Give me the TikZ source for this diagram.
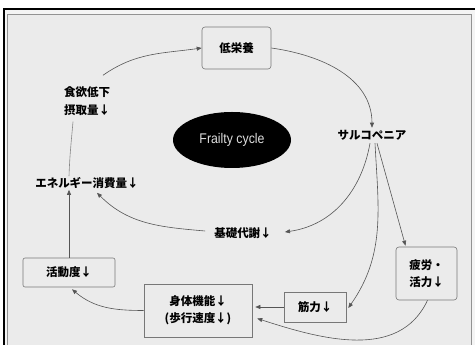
\documentclass[tikz,border=0pt]{standalone}
\usepackage{fontspec}
\setmainfont{Liberation Sans}
\newfontfamily\narrowsans[FakeStretch=0.88]{Liberation Sans}
\newfontfamily\jp{Noto Sans CJK JP}
\usetikzlibrary{shapes.geometric,arrows.meta,calc}
\definecolor{bgin}{HTML}{EBEBEB}
\definecolor{bgout}{HTML}{F4F4F4}
\definecolor{ln}{HTML}{555555}
\definecolor{bx}{HTML}{777777}
\tikzset{
  lbl/.style={font=\jp\bfseries\fontsize{11.5}{15}\selectfont, text=black, inner sep=1pt, align=center},
  rbox/.style={lbl, draw=bx, line width=0.6pt, rounded corners=3pt, fill=bgin},
  sbox/.style={lbl, draw=bx, line width=0.6pt, fill=bgin},
  conn/.style={draw=ln, line width=0.6pt, -{Triangle[length=5pt,width=4pt]}},
  plain/.style={draw=ln!70, line width=0.6pt}
}
\begin{document}
\begin{tikzpicture}[x=1pt,y=1pt]
\useasboundingbox (0,0) rectangle (475,345);
\fill[white] (0,0) rectangle (475,345);
\fill[bgout] (4,0) rectangle (475,336);
\fill[bgin] (7.5,0) rectangle (471,331);
\draw[bx!80, line width=0.8pt] (7.5,0) -- (7.5,331) -- (471,331) -- (471,0);
\draw[black, line width=2pt] (4,0) -- (4,336) -- (475,336);

\node[ellipse, fill=black, minimum width=118, minimum height=56, inner sep=0pt,
      font=\narrowsans\fontsize{14}{16}\selectfont, text=gray!25] (fc) at (232,205) {Frailty cycle};

\node[rbox, minimum width=69, minimum height=42] (nut) at (236.5,297) {低栄養};
\node[lbl] (sarco) at (372,210) {サルコペニア};
\node[lbl, font=\jp\bfseries\fontsize{11.5}{18}\selectfont] (app) at (87,244) {食欲低下\\摂取量↓};
\node[lbl] (ene) at (87,162) {エネルギー消費量↓};
\node[lbl] (bas) at (243,112) {基礎代謝↓};
\node[rbox, rounded corners=2pt, minimum width=92, minimum height=29] (act) at (69,72.5) {活動度↓};
\node[sbox, minimum width=108, minimum height=53, font=\jp\bfseries\fontsize{11.5}{17}\selectfont] (phys) at (198,34.5) {身体機能↓\\(歩行速度↓)};
\node[sbox, minimum width=62, minimum height=30] (mus) at (315,38) {筋力↓};
\node[rbox, minimum width=61, minimum height=53, font=\jp\bfseries\fontsize{11.5}{17}\selectfont] (fat) at (426.5,71.5) {疲労・\\活力↓};

% connectors
\draw[conn] ($(app.north)+(16,10)$) to[out=35, in=188] (nut.west);
\draw[conn] (nut.east) to[out=-8, in=90] ($(sarco.north)+(0,1)$);
\draw[plain] (ene.north -| act.north) to[out=88, in=-95] ($(app.south)+(-14,-5)$);
\draw[conn] ($(sarco.south)+(-2,-2)$) to[out=-100, in=8] ($(bas.east)+(12,1)$);
\draw[conn] ($(bas.west)+(-8,2)$) to[out=175, in=-45] ($(ene.south)+(10,-3)$);
\draw[conn] ($(sarco.south)+(3,-2)$) to[out=-87, in=55] ($(mus.east)+(2,-1)$);
\draw[conn] ($(sarco.south)+(5,-2)$) -- ($(fat.north)+(-21,1)$);
\draw[conn] ($(fat.south)+(1,0)$) to[out=-115, in=-18] ($(phys.east)+(5,-8)$);
\draw[conn] (mus.west) -- ($(mus.west -| phys.east)+(3,0)$);
\draw[conn] ($(phys.west)+(0,0)$) to[out=180, in=-40] ($(act.south)+(3,-2)$);
\draw[conn] (act.north) -- (ene.south -| act.north);
\end{tikzpicture}
\end{document}
